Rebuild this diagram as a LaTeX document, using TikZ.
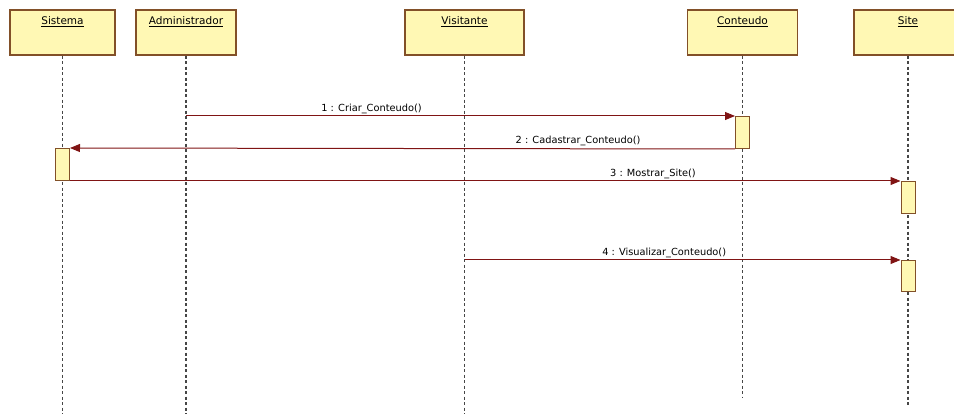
\documentclass[tikz,border=0pt]{standalone}
\usepackage{fontspec}
\setmainfont{DejaVu Sans}
\usetikzlibrary{arrows.meta}
\definecolor{amarelo}{RGB}{255,248,180}
\definecolor{marrom}{RGB}{130,80,40}
\definecolor{vinho}{RGB}{128,20,20}
\definecolor{cinza}{RGB}{70,70,70}
\begin{document}
\begin{tikzpicture}[x=1pt, y=-1pt,
        objeto/.style={rectangle, draw=marrom, fill=amarelo, line width=1.2pt, minimum height=45pt, inner sep=0pt},
        titulo/.style={font=\fontsize{10.5}{12}\selectfont},
        ativacao/.style={rectangle, draw=marrom, fill=amarelo, line width=1pt, minimum width=14pt, minimum height=32pt, inner sep=0pt, anchor=north},
        vida/.style={draw=cinza, line width=1.2pt, dash pattern=on 3pt off 2.5pt},
        mensagem/.style={draw=vinho, line width=1pt, -{Triangle[length=10pt, width=8pt]}},
        rotulo/.style={above, text=black, inner sep=2pt, font=\fontsize{9.8}{11}\selectfont}
    ]
        \useasboundingbox (0,0) rectangle (954,414);
        \clip (0,0) rectangle (954,414);

        % Objetos
        \node[objeto, minimum width=105pt] (sis) at (62.5,32.5) {};
        \node[objeto, minimum width=100pt] (adm) at (186,32.5) {};
        \node[objeto, minimum width=119pt] (vis) at (464.5,32.5) {};
        \node[objeto, minimum width=110pt] (con) at (742.5,32.5) {};
        \node[objeto, minimum width=108pt] (sit) at (908,32.5) {};
        \node[titulo] at (sis.north |- 0,22) {\underline{Sistema}};
        \node[titulo] at (adm.north |- 0,22) {\underline{Administrador}};
        \node[titulo] at (vis.north |- 0,22) {\underline{Visitante}};
        \node[titulo] at (con.north |- 0,22) {\underline{Conteudo}};
        \node[titulo] at (sit.north |- 0,22) {\underline{Site}};

        % Linhas de vida
        \coordinate (fimsis) at (sis.south |- 0,414);
        \coordinate (fimadm) at (adm.south |- 0,414);
        \coordinate (fimvis) at (vis.south |- 0,414);
        \coordinate (fimcon) at (con.south |- 0,398);
        \coordinate (fimsit) at (sit.south |- 0,407);
        \draw[vida] (sis.south) -- (fimsis);
        \draw[vida] (adm.south) -- (fimadm);
        \draw[vida] (vis.south) -- (fimvis);
        \draw[vida] (con.south) -- (fimcon);
        \draw[vida] (sit.south) -- (fimsit);

        % Ativacoes
        \node[ativacao] (a1) at (con.south |- 0,116) {};
        \node[ativacao] (a2) at (sis.south |- 0,148) {};
        \node[ativacao] (a3) at (sit.south |- 0,181) {};
        \node[ativacao, minimum height=31pt] (a4) at (sit.south |- 0,260) {};

        % Mensagens
        \draw[mensagem] (adm.south |- a1.north west) -- node[rotulo, pos=0.338] {1 : Criar\_Conteudo()} (a1.north west);
        \draw[mensagem] (a1.south west) -- node[rotulo, pos=0.236] {2 : Cadastrar\_Conteudo()} (a2.north east);
        \draw[mensagem] (a2.south east) -- node[rotulo, pos=0.702] {3 : Mostrar\_Site()} (a3.north west);
        \draw[mensagem] (vis.south |- a4.north west) -- node[rotulo, pos=0.458] {4 : Visualizar\_Conteudo()} (a4.north west);
    \end{tikzpicture}
\end{document}
